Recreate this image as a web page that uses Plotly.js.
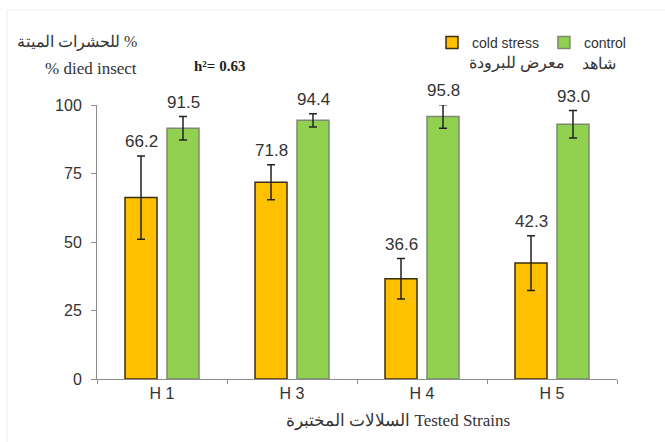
<!DOCTYPE html>
<html>
<head>
<meta charset="utf-8">
<script src="https://cdn.plot.ly/plotly-3.0.1.min.js"></script>
<style>html,body{margin:0;padding:0;background:#fff;}#chart{width:665px;height:442px;}</style>
</head>
<body>
<div id="chart"></div>
<script>
const categories = ['H 1', 'H 3', 'H 4', 'H 5'];
const coldStress = [66.2, 71.8, 36.6, 42.3];
const coldErr = [15.2, 6.4, 7.4, 10.0];
const control = [91.5, 94.4, 95.8, 93.0];
const controlErr = [4.3, 2.4, 4.3, 5.0];
const yTicks = [0, 25, 50, 75, 100];
const seriesNames = ['cold stress', 'control'];
const heritability = 'h²= 0.63';

const L = 97, R = 617, T = 105, B = 379;
const px = x => (x - L) / (R - L);
const py = y => (B - y) / (B - T);
const yMax = 100;

const errStyle = {type: 'data', visible: true, color: '#222', thickness: 1.5, width: 4};

const traces = [
  {type: 'bar', name: seriesNames[0], x: categories, y: coldStress,
   error_y: Object.assign({array: coldErr}, errStyle),
   marker: {color: '#FFC000', line: {color: '#3b2e0a', width: 1.5}}, hoverinfo: 'none'},
  {type: 'bar', name: seriesNames[1], x: categories, y: control,
   error_y: Object.assign({array: controlErr}, errStyle),
   marker: {color: '#92D050', line: {color: '#7a8a70', width: 1.5}}, hoverinfo: 'none'}
];

const annotations = [];
const numFont = {family: 'Liberation Sans, Arial', size: 17, color: '#333'};
categories.forEach((c, i) => {
  annotations.push({x: c, y: (coldStress[i] + coldErr[i]) / yMax, xref: 'x', yref: 'y domain', xshift: -21, yshift: 14,
    text: coldStress[i].toFixed(1), showarrow: false, font: numFont, yanchor: 'middle'});
  annotations.push({x: c, y: (control[i] + controlErr[i]) / yMax, xref: 'x', yref: 'y domain', xshift: 21, yshift: 14,
    text: control[i].toFixed(1), showarrow: false, font: numFont, yanchor: 'middle'});
});
const serif = 'Liberation Serif, Times New Roman, serif';
annotations.push(
  {xref: 'paper', yref: 'paper', x: px(139), y: py(42), xanchor: 'right', yanchor: 'middle', showarrow: false,
   text: 'للحشرات الميتة %', font: {family: serif, size: 16, color: '#333'}},
  {xref: 'paper', yref: 'paper', x: px(139), y: py(68), xanchor: 'right', yanchor: 'middle', showarrow: false,
   text: '% died insect', font: {family: serif, size: 17, color: '#333'}},
  {xref: 'paper', yref: 'paper', x: px(192), y: py(66), xanchor: 'left', yanchor: 'middle', showarrow: false,
   text: '<b>' + heritability + '</b>', font: {family: serif, size: 15, color: '#222'}},
  {xref: 'paper', yref: 'paper', x: px(517), y: py(63), xanchor: 'center', yanchor: 'middle', showarrow: false,
   text: 'معرض للبرودة', font: {family: serif, size: 16, color: '#333'}},
  {xref: 'paper', yref: 'paper', x: px(599), y: py(63), xanchor: 'center', yanchor: 'middle', showarrow: false,
   text: 'شاهد', font: {family: serif, size: 16, color: '#333'}},
  {xref: 'paper', yref: 'paper', x: px(398), y: py(421), xanchor: 'center', yanchor: 'middle', showarrow: false,
   text: 'السلالات المختبرة Tested Strains', font: {family: serif, size: 17, color: '#333'}}
);

const layout = {
  width: 665, height: 442,
  margin: {l: L, r: 665 - R, t: T, b: 442 - B, pad: 0},
  paper_bgcolor: '#fff', plot_bgcolor: '#fff',
  barmode: 'group', bargap: 0.354, bargroupgap: 0.238,
  showlegend: true,
  legend: {orientation: 'h', x: px(432), y: py(27), xanchor: 'left', yanchor: 'top',
    font: {family: 'Liberation Sans, Arial', size: 14, color: '#333'}, bgcolor: 'rgba(0,0,0,0)', itemwidth: 30},
  xaxis: {type: 'category', range: [-0.5, 3.5], showline: true, linecolor: '#8c8c8c', linewidth: 1,
    ticks: 'outside', tickson: 'boundaries', ticklen: 4, tickcolor: '#8c8c8c', showgrid: false, zeroline: false,
    tickfont: {family: 'Liberation Sans, Arial', size: 16, color: '#333'}, fixedrange: true},
  yaxis: {range: [0, yMax], tickvals: yTicks, ticktext: yTicks.map(String), showline: true, linecolor: '#8c8c8c', linewidth: 1,
    ticks: 'outside', ticklen: 5, tickcolor: '#8c8c8c', showgrid: false, zeroline: false, ticklabelstandoff: 6,
    tickfont: {family: 'Liberation Sans, Arial', size: 16, color: '#333'}, fixedrange: true},
  annotations: annotations,
  shapes: [
    {type: 'line', xref: 'paper', yref: 'paper', x0: px(7), x1: px(7), y0: py(10), y1: py(442), line: {color: '#ececec', width: 1}},
    {type: 'line', xref: 'paper', yref: 'paper', x0: px(7), x1: px(665), y0: py(10), y1: py(10), line: {color: '#ececec', width: 1}}
  ]
};

Plotly.newPlot('chart', traces, layout, {staticPlot: true, displayModeBar: false});
</script>
</body>
</html>
